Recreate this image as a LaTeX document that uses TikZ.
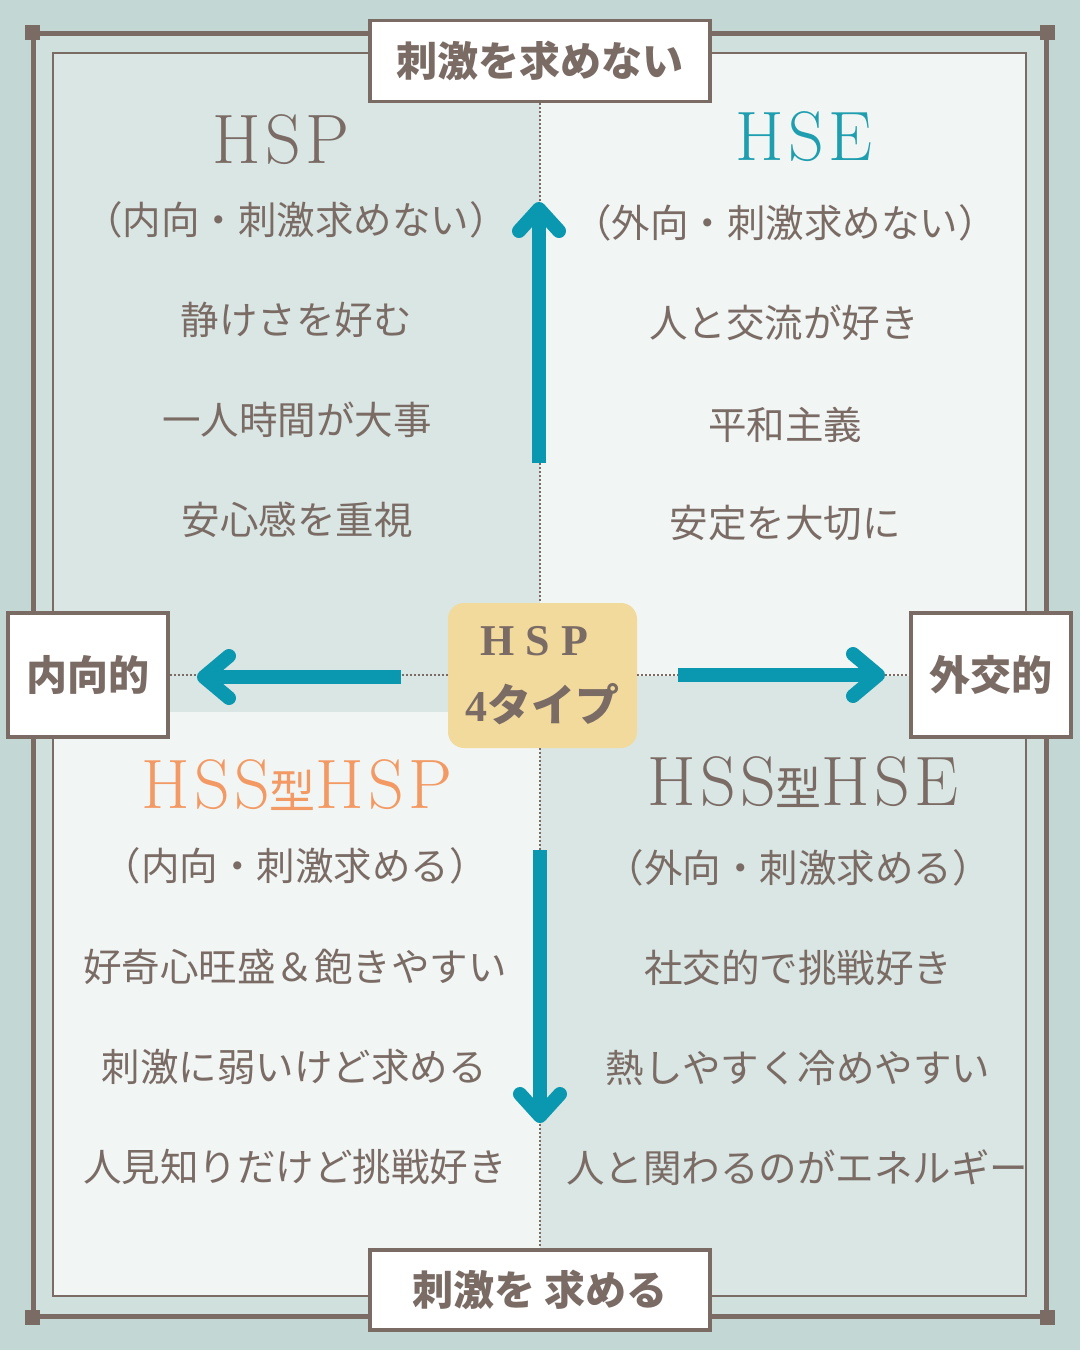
\documentclass[tikz,border=0pt]{standalone}
\usepackage{fontspec}
\newfontfamily\cjk{Noto Sans CJK JP}
\newfontfamily\serifb{Liberation Serif}
\newfontfamily\titlefont[LetterSpace=6]{lmroman17-regular.otf}
\usetikzlibrary{calc}
\definecolor{bgout}{HTML}{C3D8D4}
\definecolor{bgstrip}{HTML}{D0E0DD}
\definecolor{brownc}{HTML}{7A6B65}
\definecolor{tealc}{HTML}{0A97B0}
\definecolor{hsec}{HTML}{1E9EAE}
\definecolor{orangec}{HTML}{F39A64}
\definecolor{goldc}{HTML}{F2DA9D}
\definecolor{qdark}{HTML}{DAE6E4}
\definecolor{qlight}{HTML}{F1F5F4}
\begin{document}
\begin{tikzpicture}[x=1pt,y=-1pt,
  body/.style={text=brownc, font=\cjk\fontsize{38.5}{40}\selectfont, inner sep=0pt},
  lab/.style={draw=brownc, line width=3.5pt, fill=white, text=brownc, inner sep=0pt,
    font=\cjk\bfseries\fontsize{41}{44}\selectfont},
  title/.style={font=\titlefont\fontsize{70}{72}\selectfont, inner sep=0pt, anchor=base},
  dots/.style={brownc, line width=2pt, dash pattern=on 2pt off 2pt},
  shaft/.style={tealc, line width=14pt},
  head/.style={tealc, line width=14pt, line cap=round, line join=round},
  corner/.style={fill=brownc, minimum size=15pt, inner sep=0pt},
]
\useasboundingbox (0,0) rectangle (1080,1350);
% backgrounds
\fill[bgout] (0,0) rectangle (1080,1350);
\fill[bgstrip] (33,33) rectangle (1046,1316);
\fill[qdark] (53,53) rectangle (540,712);
\fill[qlight] (53,712) rectangle (540,1296);
\fill[qlight] (540,53) rectangle (1026,676);
\fill[qdark] (540,676) rectangle (1026,1296);
% frames
\draw[brownc, line width=2.5pt] (53,53) rectangle (1026,1296);
\draw[brownc, line width=5pt] (33,33) rectangle (1046,1316);
\node[corner] (c1) at (32,32) {};
\node[corner] (c2) at (1047,32) {};
\node[corner] (c3) at (32,1317) {};
\node[corner] (c4) at (1047,1317) {};
% label boxes
\node[lab, minimum width=340pt, minimum height=81pt] (top) at (540,61) {刺激を求めない};
\node[lab, minimum width=340pt, minimum height=80pt] (bot) at (540,1290) {刺激を 求める};
\node[lab, minimum width=160pt, minimum height=124pt] (lft) at (88,675) {内向的};
\node[lab, minimum width=160pt, minimum height=124pt] (rgt) at (991,675) {外交的};
% hub
\node[fill=goldc, rounded corners=16pt, minimum width=189pt, minimum height=145pt,
  inner sep=0pt, align=center, text=brownc, font=\serifb\bfseries\fontsize{44}{66}\selectfont]
  (hub) at (542.5,675.5) {\hspace*{-16pt}H S P\\4{\cjk\bfseries タイプ}};
% dotted axes
\draw[dots] (top.south) -- (top.south |- hub.north);
\draw[dots] (hub.south -| bot.north) -- (bot.north);
\draw[dots] (lft.east) -- (lft.east -| hub.west);
\draw[dots] (hub.east |- rgt.west) -- (rgt.west);
% arrows
\coordinate (upS) at (539,463);
\coordinate (upT) at (539,209);
\draw[shaft] (upS) -- (upT);
\draw[head] ($(upT)+(-20,22)$) -- (upT) -- ($(upT)+(20,22)$);
\coordinate (dnS) at (540,850);
\coordinate (dnT) at (540,1116);
\draw[shaft] (dnS) -- (dnT);
\draw[head] ($(dnT)+(-20,-22)$) -- (dnT) -- ($(dnT)+(20,-22)$);
\coordinate (lfS) at (401,677);
\coordinate (lfT) at (204,677);
\draw[shaft] (lfS) -- (lfT);
\draw[head] ($(lfT)+(25,-21)$) -- (lfT) -- ($(lfT)+(25,21)$);
\coordinate (rtS) at (678,675);
\coordinate (rtT) at (878,675);
\draw[shaft] (rtS) -- (rtT);
\draw[head] ($(rtT)+(-25,-21)$) -- (rtT) -- ($(rtT)+(-25,21)$);
% titles
\node[title, text=brownc] (t1) at (281,163) {HSP};
\node[title, text=hsec] (t2) at (804,160) {HSE};
\node[title, text=orangec] (t3) at (297,808) {HSS{\cjk\fontsize{46}{48}\selectfont 型}HSP};
\node[title, text=brownc] (t4) at (803,805) {HSS{\cjk\fontsize{46}{48}\selectfont 型}HSE};
% body text
\node[body] (a1) at (296,220) {（内向・刺激求めない）};
\node[body] (a2) at (296,320) {静けさを好む};
\node[body] (a3) at (297,420) {一人時間が大事};
\node[body] (a4) at (297,520) {安心感を重視};
\node[body] (b1) at (785,223) {（外向・刺激求めない）};
\node[body] (b2) at (784,323) {人と交流が好き};
\node[body] (b3) at (785,425) {平和主義};
\node[body] (b4) at (785,523) {安定を大切に};
\node[body] (c1t) at (295,866) {（内向・刺激求める）};
\node[body] (c2t) at (295,967) {好奇心旺盛＆飽きやすい};
\node[body] (c3t) at (294,1067) {刺激に弱いけど求める};
\node[body] (c4t) at (295,1167) {人見知りだけど挑戦好き};
\node[body] (d1) at (798,868) {（外向・刺激求める）};
\node[body] (d2) at (798,968) {社交的で挑戦好き};
\node[body] (d3) at (798,1068) {熱しやすく冷めやすい};
\node[body] (d4) at (797,1168) {人と関わるのがエネルギー};
\end{tikzpicture}
\end{document}
